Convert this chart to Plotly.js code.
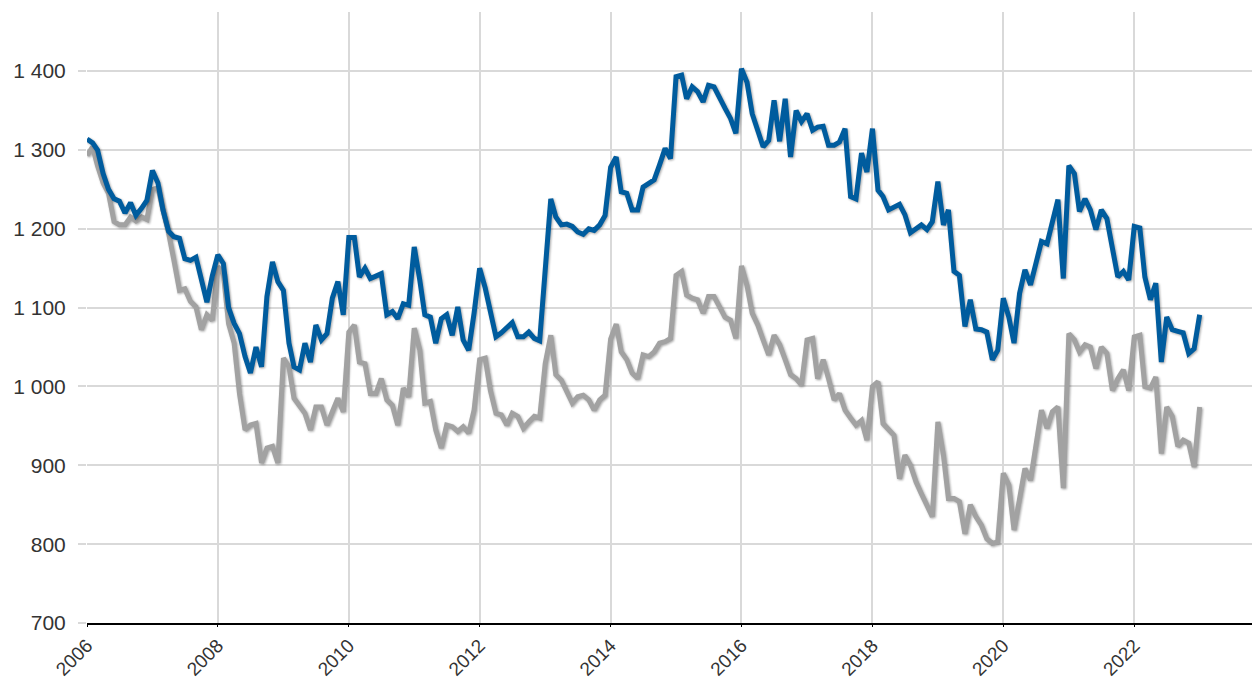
<!DOCTYPE html>
<html><head><meta charset="utf-8">
<script src="https://cdn.plot.ly/plotly-3.0.1.min.js"></script>
<style>html,body{margin:0;padding:0;background:#fff}#chart{width:1252px;height:680px}</style>
</head><body><div id="chart"></div>
<script>
const startYear = 2006;
const blueSeries = [
1314,1309,1300,1270,1250,1238,1235,1220,1233,1217,1226,1236,
1274,1258,1224,1197,1190,1188,1162,1160,1164,1135,1107,1140,
1167,1156,1100,1080,1067,1038,1017,1050,1025,1114,1158,1133,
1122,1055,1025,1021,1055,1031,1078,1059,1067,1112,1133,1091,
1189,1189,1139,1150,1137,1140,1143,1091,1095,1086,1105,1103,
1177,1135,1091,1088,1055,1086,1091,1065,1101,1059,1046,1093,
1150,1125,1094,1063,1068,1075,1081,1063,1063,1069,1061,1058,
1150,1238,1215,1205,1206,1203,1196,1193,1200,1198,1205,1217,
1278,1291,1247,1245,1224,1224,1253,1257,1262,1281,1302,1289,
1393,1395,1365,1380,1374,1361,1382,1380,1365,1353,1340,1321,
1403,1386,1346,1323,1304,1312,1363,1311,1365,1291,1350,1336,
1346,1325,1329,1330,1306,1306,1310,1327,1241,1238,1296,1272,
1327,1249,1241,1224,1228,1231,1218,1195,1200,1205,1199,1209,
1260,1205,1224,1146,1141,1076,1110,1073,1072,1069,1034,1046,
1112,1088,1055,1118,1148,1129,1156,1184,1181,1209,1237,1137,
1280,1270,1222,1238,1224,1199,1224,1213,1177,1139,1146,1135,
1203,1201,1139,1110,1131,1031,1088,1072,1070,1068,1042,1048,
1091
];
const greySeries = [
1293,1304,1280,1258,1245,1209,1205,1205,1215,1210,1215,1212,
1250,1252,1224,1195,1160,1122,1124,1108,1101,1072,1091,1084,
1152,1143,1080,1055,991,945,951,953,903,922,924,903,
1036,1025,985,975,966,945,974,974,951,968,985,968,
1069,1078,1031,1029,991,991,1010,983,976,951,998,987,
1074,1046,979,981,945,922,951,949,943,949,941,970,
1034,1036,995,966,964,951,966,962,947,955,962,960,
1029,1065,1015,1008,995,979,987,989,983,970,983,989,
1060,1079,1044,1034,1017,1010,1040,1038,1044,1055,1057,1061,
1141,1146,1116,1112,1110,1093,1114,1114,1101,1088,1084,1061,
1153,1128,1093,1078,1059,1040,1065,1053,1034,1015,1010,1002,
1059,1061,1010,1034,1010,983,991,970,960,951,957,932,
1000,1006,953,945,938,883,913,900,879,864,850,835,
955,913,858,858,854,813,850,835,824,807,801,803,
890,875,818,860,896,881,926,970,947,968,974,871,
1067,1059,1044,1053,1050,1023,1050,1042,995,1010,1021,995,
1063,1065,1000,998,1012,915,974,962,924,932,928,898,
974
];
const yTicks = [700,800,900,1000,1100,1200,1300,1400];

function monthDates(n){
  const out=[];
  for(let i=0;i<n;i++){
    const y=startYear+Math.floor(i/12), m=(i%12)+1;
    out.push(y+'-'+String(m).padStart(2,'0')+'-01');
  }
  return out;
}
const xs = monthDates(blueSeries.length);

const traces = [
  {x: xs, y: greySeries, type:'scatter', mode:'lines', name:'grey',
   line:{color:'#a2a2a2', width:5}, hoverinfo:'skip'},
  {x: xs, y: blueSeries, type:'scatter', mode:'lines', name:'blue',
   line:{color:'#005c9e', width:5}, hoverinfo:'skip'}
];
const layout = {
  width:1252, height:680,
  margin:{l:87, r:0, t:12, b:57},
  paper_bgcolor:'#fff', plot_bgcolor:'#fff',
  showlegend:false,
  font:{family:'Liberation Sans, Arial, sans-serif', size:21, color:'#333'},
  xaxis:{
    type:'date', range:['2006-01-01','2023-10-20'],
    tick0:'2006-01-01', dtick:'M24', tickformat:'%Y', tickangle:-45,
    showgrid:true, gridcolor:'#d9d9d9', gridwidth:2,
    showline:true, linecolor:'#000', linewidth:2,
    ticks:'outside', ticklen:2, tickcolor:'#000', tickwidth:1,
    zeroline:false, tickfont:{size:19, color:'#333'}
  },
  yaxis:{
    range:[700,1475], tickvals:yTicks, ticktext:yTicks.map(v=>v>=1000?(Math.floor(v/1000)+' '+String(v%1000).padStart(3,'0')):String(v)),
    showgrid:true, gridcolor:'#d9d9d9', gridwidth:2,
    showline:false, zeroline:false,
    ticks:'outside', ticklen:8, tickcolor:'#d9d9d9', tickwidth:2,
    ticklabelstandoff:8,
    tickfont:{size:21, color:'#333'}
  }
};
Plotly.newPlot('chart', traces, layout, {staticPlot:true, displayModeBar:false}).then(()=>{
  document.querySelectorAll('#chart .scatterlayer .trace path.js-line').forEach(p=>{
    p.style.filter='drop-shadow(1px 1px 1px rgba(0,0,0,0.35))';
  });
});
</script>
</body></html>
